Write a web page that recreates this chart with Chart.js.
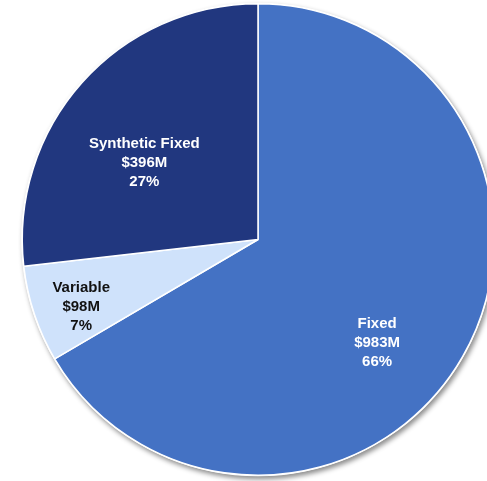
<!DOCTYPE html>
<html>
<head>
<meta charset="utf-8">
<script src="https://cdn.jsdelivr.net/npm/chart.js@4"></script>
<style>
html,body{margin:0;padding:0;background:#fff;overflow:hidden;}
#wrap{position:absolute;left:0;top:0;width:516px;height:481px;}
</style>
</head>
<body>
<div id="wrap"><canvas id="c"></canvas></div>
<script>
const categories = ["Fixed", "Variable", "Synthetic Fixed"];
const values = [983, 98, 396];
const valueLabels = ["$983M", "$98M", "$396M"];
const percentLabels = ["66%", "7%", "27%"];

const sliceColors = ["#4472C4", "#CFE2FB", "#21377F"];
const textColors = ["#FFFFFF", "#111111", "#FFFFFF"];
// label placement: [fraction along slice angle, fraction of radius]
const labelPlacement = [[0.545, 0.665], [0.42, 0.80], [0.425, 0.585]];

const shadowPlugin = {
  id: 'pieShadow',
  beforeDatasetsDraw(chart) {
    const arc = chart.getDatasetMeta(0).data[0];
    if (!arc) return;
    const ctx = chart.ctx;
    ctx.save();
    ctx.shadowColor = 'rgba(0,0,0,0.45)';
    ctx.shadowBlur = 5;
    ctx.shadowOffsetX = 2;
    ctx.shadowOffsetY = 3;
    ctx.fillStyle = '#ffffff';
    ctx.beginPath();
    ctx.arc(arc.x, arc.y, arc.outerRadius + 1, 0, Math.PI * 2);
    ctx.fill();
    ctx.restore();
  }
};

const labelPlugin = {
  id: 'sliceLabels',
  afterDatasetsDraw(chart) {
    const ctx = chart.ctx;
    const meta = chart.getDatasetMeta(0);
    ctx.save();
    ctx.font = 'bold 15px "Liberation Sans", Arial, sans-serif';
    ctx.textAlign = 'center';
    ctx.textBaseline = 'middle';
    meta.data.forEach((arc, i) => {
      const p = labelPlacement[i];
      const a = arc.startAngle + (arc.endAngle - arc.startAngle) * p[0];
      const r = arc.outerRadius * p[1];
      const x = arc.x + Math.cos(a) * r;
      const y = arc.y + Math.sin(a) * r;
      const lines = [categories[i], valueLabels[i], percentLabels[i]];
      ctx.fillStyle = textColors[i];
      lines.forEach((t, k) => {
        ctx.fillText(t, x, y + 1.5 + (k - 1) * 19);
      });
    });
    ctx.restore();
  }
};

new Chart(document.getElementById('c'), {
  type: 'pie',
  data: {
    labels: categories,
    datasets: [{
      data: values,
      backgroundColor: sliceColors,
      borderColor: '#ffffff',
      borderWidth: 1.5,
      hoverOffset: 0
    }]
  },
  options: {
    responsive: true,
    maintainAspectRatio: false,
    animation: false,
    layout: { padding: { top: 3, bottom: 5, left: 0, right: 0 } },
    plugins: {
      legend: { display: false },
      tooltip: { enabled: false },
      title: { display: false }
    }
  },
  plugins: [shadowPlugin, labelPlugin]
});
</script>
</body>
</html>
